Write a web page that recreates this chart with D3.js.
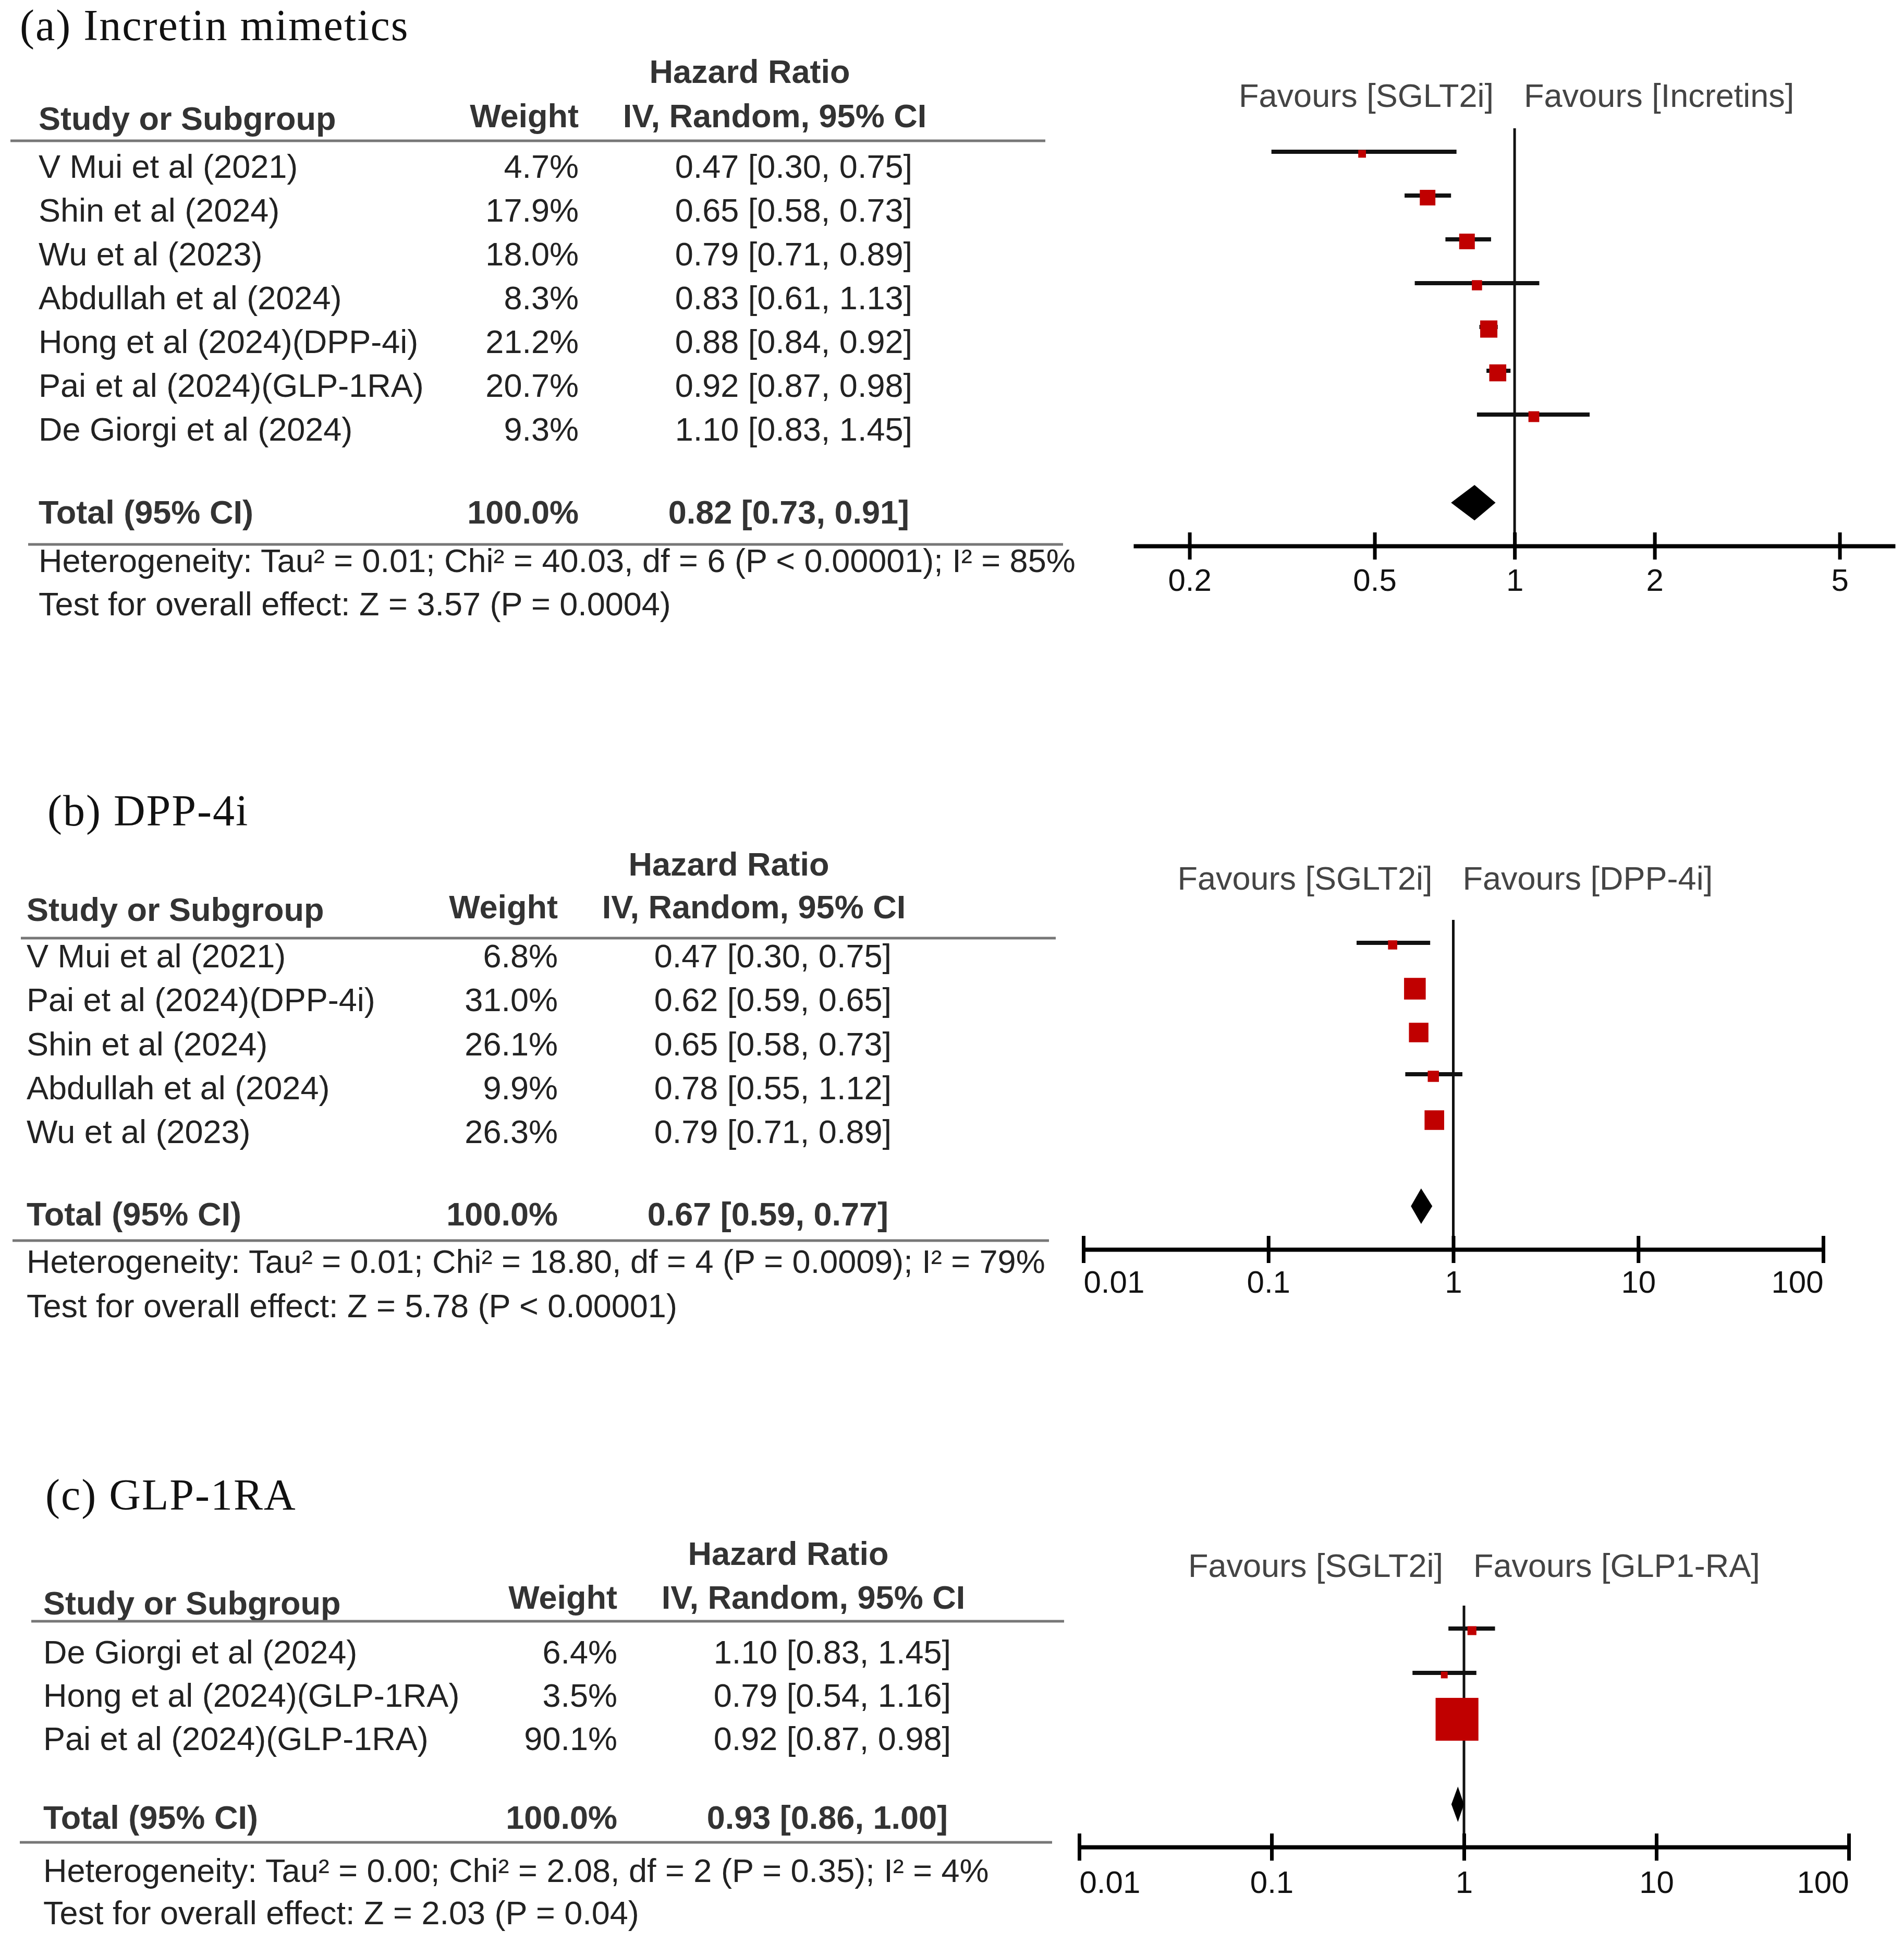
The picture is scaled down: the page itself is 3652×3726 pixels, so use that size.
<!DOCTYPE html>
<html>
<head>
<meta charset="utf-8">
<script src="https://cdn.jsdelivr.net/npm/d3@7"></script>
<style>
  body { margin: 0; background: #fff; }
</style>
</head>
<body>
<div id="chart"></div>
<script>
// ---- (a) Incretin mimetics ----
var studiesA = ["V Mui et al (2021)", "Shin et al (2024)", "Wu et al (2023)", "Abdullah et al (2024)",
                "Hong et al (2024)(DPP-4i)", "Pai et al (2024)(GLP-1RA)", "De Giorgi et al (2024)"];
var weightsA = [4.7, 17.9, 18.0, 8.3, 21.2, 20.7, 9.3];
var hrA      = [0.47, 0.65, 0.79, 0.83, 0.88, 0.92, 1.10];
var lowerA   = [0.30, 0.58, 0.71, 0.61, 0.84, 0.87, 0.83];
var upperA   = [0.75, 0.73, 0.89, 1.13, 0.92, 0.98, 1.45];
var totalA   = [0.82, 0.73, 0.91];
var ticksA   = [0.2, 0.5, 1, 2, 5];
var favoursA = ["Favours [SGLT2i]", "Favours [Incretins]"];
var notesA   = ["Heterogeneity: Tau\u00b2 = 0.01; Chi\u00b2 = 40.03, df = 6 (P < 0.00001); I\u00b2 = 85%",
                "Test for overall effect: Z = 3.57 (P = 0.0004)"];

// ---- (b) DPP-4i ----
var studiesB = ["V Mui et al (2021)", "Pai et al (2024)(DPP-4i)", "Shin et al (2024)",
                "Abdullah et al (2024)", "Wu et al (2023)"];
var weightsB = [6.8, 31.0, 26.1, 9.9, 26.3];
var hrB      = [0.47, 0.62, 0.65, 0.78, 0.79];
var lowerB   = [0.30, 0.59, 0.58, 0.55, 0.71];
var upperB   = [0.75, 0.65, 0.73, 1.12, 0.89];
var totalB   = [0.67, 0.59, 0.77];
var ticksB   = [0.01, 0.1, 1, 10, 100];
var favoursB = ["Favours [SGLT2i]", "Favours [DPP-4i]"];
var notesB   = ["Heterogeneity: Tau\u00b2 = 0.01; Chi\u00b2 = 18.80, df = 4 (P = 0.0009); I\u00b2 = 79%",
                "Test for overall effect: Z = 5.78 (P < 0.00001)"];

// ---- (c) GLP-1RA ----
var studiesC = ["De Giorgi et al (2024)", "Hong et al (2024)(GLP-1RA)", "Pai et al (2024)(GLP-1RA)"];
var weightsC = [6.4, 3.5, 90.1];
var hrC      = [1.10, 0.79, 0.92];
var lowerC   = [0.83, 0.54, 0.87];
var upperC   = [1.45, 1.16, 0.98];
var totalC   = [0.93, 0.86, 1.00];
var ticksC   = [0.01, 0.1, 1, 10, 100];
var favoursC = ["Favours [SGLT2i]", "Favours [GLP1-RA]"];
var notesC   = ["Heterogeneity: Tau\u00b2 = 0.00; Chi\u00b2 = 2.08, df = 2 (P = 0.35); I\u00b2 = 4%",
                "Test for overall effect: Z = 2.03 (P = 0.04)"];

var titles = ["(a) Incretin mimetics", "(b) DPP-4i", "(c) GLP-1RA"];
var totalWeights = [100.0, 100.0, 100.0];

// page layout (pixels), one entry per panel
var layouts = [
  { titleX: 38, titleY: 77, left: 74, ciRight: 1750, hrY: 159, studyY: 249, hdrY: 244,
    rule1: [20, 2005, 270], rowY: 341, rowStep: 84, totalY: 1004, rule2: [54, 2039, 1044],
    hetY: 1097, testY: 1180,
    range: [2174, 3635], domain: [0.1515, 6.58], axisY: 1047, refTop: 246, favY: 205,
    ciY: 291, ciStep: 84, diamondY: 964, labelDy: 86, endAnchors: false },
  { titleX: 91, titleY: 1583, left: 51, ciRight: 1710, hrY: 1679, studyY: 1766, hdrY: 1761,
    rule1: [40, 2025, 1799], rowY: 1855, rowStep: 84.25, totalY: 2350, rule2: [24, 2012, 2379],
    hetY: 2441, testY: 2526,
    range: [2078, 3497], domain: [0.01, 100], axisY: 2396, refTop: 1764, favY: 1706,
    ciY: 1808, ciStep: 84, diamondY: 2313, labelDy: 83, endAnchors: true },
  { titleX: 87, titleY: 2895, left: 83, ciRight: 1824, hrY: 3001, studyY: 3096, hdrY: 3085,
    rule1: [60, 2041, 3109], rowY: 3190, rowStep: 83, totalY: 3507, rule2: [38, 2018, 3533],
    hetY: 3609, testY: 3690,
    range: [2070, 3546], domain: [0.01, 100], axisY: 3542, refTop: 3079, favY: 3024,
    ciY: 3123, ciStep: 85, diamondY: 3460, labelDy: 88, endAnchors: true }
];

var panels = [
  { studies: studiesA, weights: weightsA, hr: hrA, lo: lowerA, hi: upperA, total: totalA,
    ticks: ticksA, favours: favoursA, notes: notesA },
  { studies: studiesB, weights: weightsB, hr: hrB, lo: lowerB, hi: upperB, total: totalB,
    ticks: ticksB, favours: favoursB, notes: notesB },
  { studies: studiesC, weights: weightsC, hr: hrC, lo: lowerC, hi: upperC, total: totalC,
    ticks: ticksC, favours: favoursC, notes: notesC }
];

var width = 3652, height = 3726;
var sans = "'Liberation Sans', Arial, sans-serif";
var serif = "'Liberation Serif', 'Times New Roman', serif";
var textColor = "#222";
var fs = 63;

var f2 = d3.format(".2f"), f1 = d3.format(".1f");
// box side grows with study weight
var boxSize = d3.scalePow().exponent(0.7).domain([0, 100]).range([5, 88]);

var svg = d3.select("#chart").append("svg")
    .attr("width", width)
    .attr("height", height)
    .style("display", "block");

svg.append("rect").attr("width", width).attr("height", height).attr("fill", "#fff");

function ciLabel(h, l, u) {
  return f2(h) + " [" + f2(l) + ", " + f2(u) + "]";
}

function drawPanel(p, L, title, totalWeight) {
  var g = svg.append("g");

  // --- table on the left ---
  g.append("text")
      .attr("x", L.titleX).attr("y", L.titleY)
      .attr("font-family", serif).attr("font-size", 84)
      .attr("letter-spacing", 2).attr("fill", "#111")
      .text(title);

  var weightRight = L.ciRight - 640;
  var hdr = g.append("g")
      .attr("font-family", sans).attr("font-size", fs)
      .attr("font-weight", "bold").attr("fill", "#333");
  hdr.append("text").attr("x", L.ciRight - 312).attr("y", L.hrY)
      .attr("text-anchor", "middle").text("Hazard Ratio");
  hdr.append("text").attr("x", L.left).attr("y", L.studyY).text("Study or Subgroup");
  hdr.append("text").attr("x", weightRight).attr("y", L.hdrY)
      .attr("text-anchor", "end").text("Weight");
  hdr.append("text").attr("x", L.ciRight - 264).attr("y", L.hdrY)
      .attr("text-anchor", "middle").text("IV, Random, 95% CI");

  g.append("line")
      .attr("x1", L.rule1[0]).attr("x2", L.rule1[1])
      .attr("y1", L.rule1[2]).attr("y2", L.rule1[2])
      .attr("stroke", "#777").attr("stroke-width", 5);

  var rows = g.selectAll(".row")
      .data(p.studies)
      .enter().append("g")
      .attr("class", "row")
      .attr("font-family", sans).attr("font-size", fs).attr("fill", textColor)
      .attr("transform", function (d, i) { return "translate(0," + (L.rowY + i * L.rowStep) + ")"; });

  rows.append("text").attr("x", L.left).text(function (d) { return d; });
  rows.append("text").attr("x", weightRight).attr("text-anchor", "end")
      .text(function (d, i) { return f1(p.weights[i]) + "%"; });
  rows.append("text").attr("x", L.ciRight).attr("text-anchor", "end")
      .text(function (d, i) { return ciLabel(p.hr[i], p.lo[i], p.hi[i]); });

  var tot = g.append("g")
      .attr("font-family", sans).attr("font-size", fs)
      .attr("font-weight", "bold").attr("fill", "#333");
  tot.append("text").attr("x", L.left).attr("y", L.totalY).text("Total (95% CI)");
  tot.append("text").attr("x", weightRight).attr("y", L.totalY)
      .attr("text-anchor", "end").text(f1(totalWeight) + "%");
  tot.append("text").attr("x", L.ciRight - 6).attr("y", L.totalY)
      .attr("text-anchor", "end").text(ciLabel(p.total[0], p.total[1], p.total[2]));

  g.append("line")
      .attr("x1", L.rule2[0]).attr("x2", L.rule2[1])
      .attr("y1", L.rule2[2]).attr("y2", L.rule2[2])
      .attr("stroke", "#777").attr("stroke-width", 5);

  g.selectAll(".note")
      .data(p.notes)
      .enter().append("text")
      .attr("class", "note")
      .attr("x", L.left)
      .attr("y", function (d, i) { return i === 0 ? L.hetY : L.testY; })
      .attr("font-family", sans).attr("font-size", fs).attr("fill", textColor)
      .text(function (d) { return d; });

  // --- forest plot on the right ---
  var x = d3.scaleLog().domain(L.domain).range(L.range);
  var y = function (i) { return L.ciY + i * L.ciStep; };
  var x1 = x(1);

  g.append("line")
      .attr("x1", x1).attr("x2", x1)
      .attr("y1", L.refTop).attr("y2", L.axisY)
      .attr("stroke", "#111").attr("stroke-width", 5);

  var fav = g.append("g").attr("font-family", sans).attr("font-size", fs).attr("fill", "#444");
  fav.append("text").attr("x", x1 - 40).attr("y", L.favY)
      .attr("text-anchor", "end").text(p.favours[0]);
  fav.append("text").attr("x", x1 + 18).attr("y", L.favY)
      .attr("text-anchor", "start").text(p.favours[1]);

  var marks = g.selectAll(".study")
      .data(p.studies)
      .enter().append("g")
      .attr("class", "study");

  marks.append("line")
      .attr("x1", function (d, i) { return x(p.lo[i]); })
      .attr("x2", function (d, i) { return x(p.hi[i]); })
      .attr("y1", function (d, i) { return y(i); })
      .attr("y2", function (d, i) { return y(i); })
      .attr("stroke", "#111").attr("stroke-width", 8);

  marks.append("rect")
      .attr("x", function (d, i) { return x(p.hr[i]) - boxSize(p.weights[i]) / 2; })
      .attr("y", function (d, i) { return y(i) + 4 - boxSize(p.weights[i]) / 2; })
      .attr("width", function (d, i) { return boxSize(p.weights[i]); })
      .attr("height", function (d, i) { return boxSize(p.weights[i]); })
      .attr("fill", "#c00000");

  var dh = 34;
  g.append("path")
      .attr("d", "M" + x(p.total[1]) + "," + L.diamondY +
                 "L" + x(p.total[0]) + "," + (L.diamondY - dh) +
                 "L" + x(p.total[2]) + "," + L.diamondY +
                 "L" + x(p.total[0]) + "," + (L.diamondY + dh) + "Z")
      .attr("fill", "#000");

  var axis = d3.axisBottom(x)
      .tickValues(p.ticks)
      .tickFormat(d3.format("~g"))
      .tickSizeOuter(0)
      .tickSizeInner(26)
      .tickPadding(0);

  var ag = g.append("g")
      .attr("transform", "translate(0," + L.axisY + ")")
      .call(axis)
      .attr("font-family", sans)
      .attr("font-size", 60);

  ag.select(".domain").attr("stroke", "#000").attr("stroke-width", 8);
  ag.selectAll(".tick line")
      .attr("y1", -26).attr("y2", 26)
      .attr("stroke", "#000").attr("stroke-width", 7);
  ag.selectAll(".tick text")
      .attr("y", L.labelDy).attr("dy", null)
      .attr("fill", "#111")
      .attr("text-anchor", function (d, i) {
        if (!L.endAnchors) return "middle";
        if (i === 0) return "start";
        if (i === p.ticks.length - 1) return "end";
        return "middle";
      });
}

panels.forEach(function (p, k) { drawPanel(p, layouts[k], titles[k], totalWeights[k]); });
</script>
</body>
</html>
